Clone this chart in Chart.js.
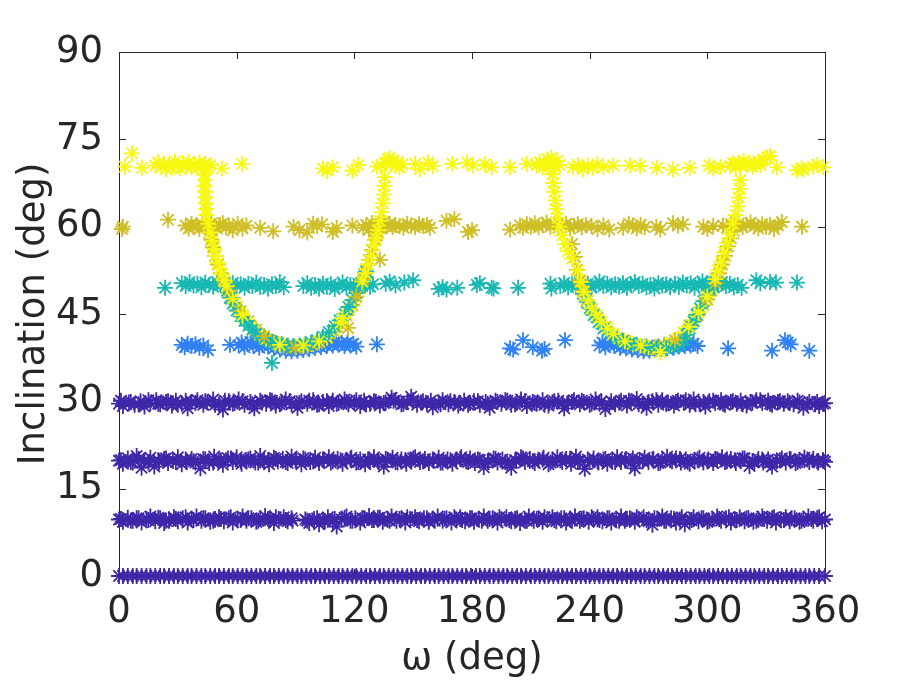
<!DOCTYPE html>
<html>
<head>
<meta charset="utf-8">
<script src="https://cdn.jsdelivr.net/npm/chart.js@4.4.1/dist/chart.umd.min.js"></script>
<style>
  html, body { margin: 0; padding: 0; background: #fff; }
  #wrap { width: 912px; height: 684px; }
</style>
</head>
<body>
<div id="wrap"><canvas id="c" width="912" height="684"></canvas></div>
<script>
// axis ticks
var xTicks = [0, 60, 120, 180, 240, 300, 360];
var yTicks = [0, 15, 30, 45, 60, 75, 90];

// [omega, inclination]
// yellow: ~70 deg band, the two T stems and the upper arms of the U's
var yellowPts = [
  [3,70.3],[6.6,72.6],[11.7,70.1],
  [18.5,70.5],[20,71],[21.5,70.2],[23,70.8],[24,69.9],[25.5,70.6],[27,70.1],[28.5,71.2],[30,70.4],[31,70],[32.5,70.9],[34,70.3],[35.5,71.1],[37,70.2],[38.5,70.7],[40,70.1],[41,71],[42.5,70.4],[44,70.8],[45.5,70.2],[46.5,70.6],
  [52.5,70],[62.7,70.8],
  [43.5,69],[43.8,68],[43.5,67],[44,66],[43.8,65],[44.2,64],[44.5,63],[44.5,62],
  [45.5,60.5],[46.5,59],[47.5,57.5],[48.5,56.2],[49.5,55],[50.5,53.8],[51.5,52.8],[52.5,51.8],[53.5,50.8],[55,49.8],
  [124,50.6],[125.5,52],[127,53.5],[128.5,55],[130,56.8],[131,58],[132,59.4],[133,61],[134,62.5],[134.5,64],[135,65.5],[135.3,67],[135.5,68.5],
  [104,70],[106,69.6],[109,70.2],[119,69.6],[122,70.6],[131.6,70.3],[134,70.5],[135.5,71],[137,71.5],[138,71.8],[139,70.8],[140,71.3],[141,70.5],[142,71],[143,70.2],[144.5,70.7],[151,70.8],[153.5,69.9],[157.6,71],[160,70.4],[170,70.8],[177.5,71],[180.5,70.5],
  [186.6,70.7],[190,70.2],[199.4,70.2],[208,70.8],[213,70.5],[214.5,71.1],[216,70.2],[217,70.9],[218.5,71.6],[219.5,70.4],[220.5,71.8],[221.5,71],[222.5,70.3],[223.5,71.3],[224.5,70.6],[231.5,70.2],[234,70.6],[236.5,69.9],[239,70.5],[241.5,70.1],[244,70.7],[247,70.2],[252,70.5],[260.6,70.5],[265.7,70.4],[274.4,70.1],[282.5,69.8],[291,70.1],
  [221,69],[221.5,67.5],[222,66],[222.5,64.5],[223,63],[223.8,61.5],[224.5,60],[226,58.5],[227.5,57],[229,55.8],[231,54.5],
  [234,52.5],[235.5,50.5],
  [304,51],[305.5,52.5],[307,54],[308.5,55.6],[310,57.2],[311.5,58.8],[313,60.5],[314.5,62],[315.5,63.5],[316,65],[316.5,66.5],[316.8,68],
  [301,70.5],[303,70],[306.6,70.2],[311.6,70.4],[313,70.9],[314.5,70.2],[316,71],[317,70.5],[318.5,71.3],[320,70.6],[321.5,71],[323,70.3],[324.5,70.8],[326,71.2],[327,70.6],[329,71.5],[330.5,71.9],[332,72.1],[335.5,70.2],[345.7,69.7],[348,70],[349,69.8],[354,70.3],[356,70.6],[359,70.2]
];
// yellow points on the lower U that show above the cyan
var yellowTop = [
  [58,47.6],[63,44.8],[82,39.7],[94,39.6],[102,40.3],[113,43.5],[114,44.3],
  [237,48.8],[239,47.3],[241,46],[243.5,44.8],[246,43.6],[249,42.5],[252,41.6],[258,40.3],[266,39.6],[276,38.4],[290.5,42.8],[295.5,45.3],[300,48]
];
// yellow points on the lower U that sit under the cyan
var yellowLow = [
  [56.5,48.6],[60,46.3],[62,45.2],[64,44.3],[66.5,43.2],[69,42.3],[72,41.4],[75,40.7],[78,40.2],[86,39.5],[90,39.4],[98,39.9],[106,41],[110,42.2],[116,45],[118.5,46.4],[120.5,47.8],[122.5,49.4],
  [255,40.8],[262,39.9],[270,39.3],[274,38.9],[279,39.4],[282,40],[285,40.8],[288,41.8],[293,44],[297.5,46.5],[302,49.4]
];

var olivePts = [
  [2,60],[1.5,59.6],[25,61.2],
  [34,60.2],[35.5,59.7],[37,60.5],[38,59.9],[39.5,60.3],[41,59.6],[42.5,60.4],[44,60.1],[45.5,59.8],[47,60.6],[48.5,60],[50,59.7],[51.5,60.3],[53,60.6],[54.5,59.9],[56,60.2],[58,59.4],
  [60.5,60.5],[63,59.7],[65,60.2],[72,59.8],[78.6,59.2],[89,60],[92,59.4],[96,59],[99,60.5],[101,60.1],[103.5,60.4],[109,59.1],[111,59.8],[119,60.2],
  [124.5,59.8],[126,60.3],[127.5,59.5],[129,60.6],[130.5,60],[132,60.4],[133.5,59.7],[135,60.8],[136.5,60.1],[138,60.5],[139.5,59.9],[141,60.3],[143,60.1],[145,59.8],[147,60.5],[149,60.2],[151,59.9],[153,60.4],[155,60.1],[157,60.3],[158.5,59.8],
  [167,61],[171,61.3],[178,59.1],[180,59.4],
  [199.4,59.5],[204.5,60.2],[206,59.8],[208,60.4],[210,60],[212,60.6],[214,59.9],[216,60.3],[218,60.7],[220,60],[222,60.4],[224,59.8],[226,60.2],[228,60.5],[230,59.7],[232,60.1],[234,60.4],[236,59.9],[238,60.3],[241,60.1],[244,59.6],[247,60.2],[250,59.5],[257,59.8],[260,60.5],[262,60.2],[264,59.7],[266,60.3],[268,59.9],[274,60],[276,59.5],[282.5,60.6],[285,60.2],[287.6,60.4],[298,60],[300,59.6],[303,60.1],
  [308,60.2],[310,59.8],[312,60.4],[314,60],[316,60.6],[318,59.9],[320,60.3],[322,60.7],[324,60.1],[326,59.7],[328,60.4],[330,60],[332,60.3],[334,59.6],[336,60.2],[338,60.8],[348.3,60],
  [46,59],[47,57.8],[48,56.5],[49,55],[50.5,53.5],[52,52],[54,50.4],
  [124.5,51],[126,52.7],[127.5,54.3],[129,56],[130.5,57.7],[132,59],[133,54.3],
  [231,57],[232.5,54.8],[233.5,52.6],[235,50.8],
  [304,50.3],[306,52],[307.5,53.5],[309,55],[310.5,56.6],[312,58],[313.5,59.3]
];
var oliveTop = [
  [56,49],[62,45.5],[74,41.2],[90,39.2],[116.8,42.6],[121,48],[236.5,49],[283.5,40.5],[300,47.5]
];
var oliveLow = [
  [59,47],[66,43.8],[70,42.3],[79,40.2],[84,39.6],[96,39.5],[101,40],[106,40.9],[110,42],[113,43.2],[116,44.8],[119,46.5],[123,49.5],
  [238.5,47.4],[241,45.8],[244,44.4],[248,42.8],[252,41.5],[257,40.5],[262,39.8],[268,39.4],[273,39.3],[278,39.7],[288,41.8],[291,43],[295,44.8],[298,46.5],[302,49]
];

var cyanPts = [
  [23.5,49.5],[32,50.3],[34,49.8],[36,50.5],[38,49.9],[40,50.2],[42,49.6],[44,50.4],[46,50],[48,49.7],[50,50.5],[52,49.9],[54,50.2],[56,49.6],[58,50.3],[60,49.8],[62,50.1],[64,49.5],[66,50.2],[68,49.8],[70,50.4],[72,49.7],[74,50],[76,49.4],[78,50.1],[80,49.8],[82,50.5],[84,49.6],
  [94,49.8],[96,50.3],[98,49.5],[100,50],[102,49.4],[104,50.2],[106,49.7],[108,50.1],[110,49.3],[112,49.9],[114,50.4],[116,49.6],[118,50],[120,49.5],[122,50.2],[124,49.8],[126,50.4],[128,49.7],[129.5,50.1],
  [136,50.2],[138,50.6],[141,49.9],[145.5,50.4],[150,50.8],
  [163,49.3],[165,49.6],[167,49.2],[172.5,49.5],[182.5,50],[184,50.3],[190,49.5],[191,49.4],[203.5,49.5],[220,50.2],[220.5,49.4],
  [225,49.8],[227,50.3],[229,49.6],[231,50.1],[233,49.7],[235,50.4],[237,49.9],[239,50.2],[241,49.5],[243,50],[245,50.6],[247,49.8],[249,50.2],[251,49.6],[253,50.1],[255,49.7],[257,50.3],[259,49.5],[261,50.1],[263,50.5],[265,49.8],[267,50.2],[269,49.6],[271,50],[273,49.4],[275,50.3],[277,49.9],[279,50.1],[281,49.6],
  [283.5,50.2],[285.5,49.7],[287.5,50.4],[289.5,49.9],[291.5,50.3],[293.5,49.5],[295.5,50.1],[297.5,50.6],[299.5,49.8],[301.5,50.2],[303.5,49.6],[305.5,50],[307.5,50.5],[309.5,49.8],[311.5,50.2],[313.5,49.6],[315.5,50],[317.5,49.5],
  [325,50.8],[327,50.3],[332,50.5],[335,50.4],[345.7,50.4],
  [78,36.6],
  [55,49],[56.5,47.8],[58,46.8],[60,45.6],[62,44.6],[64,43.8],[66,43],[68,42.3],[70,41.7],[72,41.2],[74,40.8],[76,40.5],[78,40.2],[80,40],[83,39.8],[86,39.6],[89,39.5],[92,39.6],[95,39.8],[98,40.1],[101,40.5],[104,41.1],[107,41.9],[110,42.9],[112.5,43.9],[115,45],[117,46.2],[119,47.4],[121,48.6],[123,50],[124.5,51.2],[126,52.3],
  [235,50],[236.5,48.5],[238.5,47.1],[240,46],[242,44.8],[244.5,43.6],[247,42.5],[250,41.6],[254,40.8],[257,40.3],[260.5,40],[264,39.7],[269,39.4],[274,39.2],[279,39.1],[283,39.3],[286,39.7],[288,40.5],[289.5,41.4],[291,42.5],[293,43.7],[294.5,44.9],[296.3,46],[298,47.2],[299.7,48.3],[301,49.4],[302.2,50.6]
];

var bluePts = [
  [32,39.7],[33.5,39.3],[35,39.9],[37,39.5],[39,39.8],[41,39.2],[43,39.6],[45.4,38.8],[56.6,39.7],
  [61,39.6],[62.5,40.1],[64,39.3],[65.5,39.8],[67,40.2],[68.5,39.5],[70,39.9],[71.5,39.2],[73,39.7],[74.5,40.1],[76,39.4],[77.5,39.8],[79,39.1],[80.5,39.6],[82,38.9],[83.5,39.4],[85,38.7],[86.5,39.2],[88,38.6],[89.5,39.1],[91,38.7],[92.5,39.3],[94,38.8],[95.5,39.5],[97,39],[98.5,39.6],[100,39.2],[101.5,39.8],[103,39.3],[104.5,39.9],[106,39.5],[107.5,40.1],[109,39.6],[110.5,40.2],[112,39.7],[113.5,40],[115,39.5],[116.5,40.1],[118,39.6],[119.5,39.9],[121,39.4],
  [131.5,39.8],
  [199.4,39.1],[201,38.9],[206,40.5],[211,39.3],[215.7,38.7],[217,39],[227.4,40.5],
  [245,39.6],[246.5,40.1],[248,39.3],[249.5,39.8],[251,40.2],[252.5,39.5],[254,39.9],[255.5,39.2],[257,39.7],[258.5,39.1],[260,39.6],[261.5,38.9],[263,39.4],[264.5,38.8],[266,39.3],[267.5,38.6],[269,39.1],[270.5,38.7],[272,39.2],[273.5,38.8],[275,39.4],[276.5,39],[278,39.5],[279.5,39.1],[281,39.6],[282.5,39.2],[284,39.8],[285.5,39.4],[287,39.9],[288.5,39.5],[290,40],[291.5,39.6],[293,39.9],[295,39.5],
  [310.6,39.1],[333,38.7],[339.6,40.5],[341,40.1],[342.5,39.8],[352,38.7]
];

var row30 = [[0,29.6],[2,29.2],[5,29.8],[8,29.4],[11,30.0],[13,29.1],[16,29.7],[19,30.2],[21,29.5],[24,29.9],[27,29.3],[29,30.1],[32,29.6],[35,28.8],[37,29.9],[40,30.2],[43,29.4],[45,29.8],[48,30.3],[51,29.5],[53,28.6],[56,30.0],[59,29.7],[61,30.3],[64,29.4],[67,29.9],[69,28.8],[72,30.1],[75,29.6],[77,30.2],[80,29.3],[83,29.8],[85,30.3],[88,29.5],[91,28.9],[93,30.0],[96,29.6],[99,30.2],[101,29.4],[104,29.9],[107,29.2],[109,30.1],[112,29.7],[115,30.3],[117,29.5],[120,29.8],[123,29.2],[125,30.1],[128,29.6],[131,29.9],[133,29.3],[136,29.8],[139,30.6],[141,30.2],[144,29.5],[147,29.9],[149,30.8],[152,29.4],[155,30.0],[157,29.6],[160,29.0],[163,29.8],[165,30.2],[168,29.5],[171,29.9],[173,29.3],[176,30.1],[179,29.7],[181,30.0],[184,29.4],[187,29.9],[189,28.9],[192,30.1],[195,29.6],[197,30.2],[200,29.4],[203,29.8],[205,30.3],[208,29.2],[211,29.9],[213,29.6],[216,30.2],[219,29.3],[221,29.8],[224,30.1],[227,28.8],[229,29.7],[232,30.2],[235,29.5],[237,29.9],[240,29.4],[243,30.3],[245,29.6],[248,28.7],[251,30.0],[253,29.5],[256,30.1],[259,29.3],[261,29.9],[264,30.4],[267,29.6],[269,28.9],[272,30.0],[275,29.4],[277,30.2],[280,29.7],[283,29.3],[285,30.1],[288,29.8],[291,29.4],[293,30.3],[296,29.6],[299,29.1],[301,30.0],[304,29.7],[307,30.2],[309,29.4],[312,29.9],[315,29.6],[317,30.1],[320,29.3],[323,29.8],[325,30.2],[328,29.7],[331,30.1],[333,29.4],[336,29.9],[339,29.6],[341,30.0],[344,29.5],[347,29.8],[349,28.9],[352,29.9],[355,29.5],[357,29.2],[360,29.7]];
var row30b = [[1,30.1],[6,29.9],[10,29.5],[15,30.2],[20,29.6],[25,30.0],[30,29.4],[34,30.1],[39,29.7],[44,30.0],[49,29.4],[54,30.1],[58,29.6],[63,30.0],[68,29.5],[73,29.8],[78,30.1],[82,29.5],[87,30.0],[92,29.7],[97,30.1],[102,29.5],[106,30.0],[111,29.6],[116,29.9],[121,30.2],[126,29.5],[130,30.0],[135,29.7],[140,30.1],[145,29.6],[150,30.2],[154,29.8],[159,30.1],[164,29.5],[169,30.0],[174,29.7],[178,29.4],[183,30.0],[188,29.6],[193,29.9],[198,30.1],[202,29.5],[207,30.0],[212,29.7],[217,29.4],[222,30.0],[226,29.6],[231,29.9],[236,30.1],[241,29.6],[246,30.0],[250,29.4],[255,29.8],[260,30.1],[265,29.5],[270,29.9],[274,30.2],[279,29.6],[284,29.9],[289,30.2],[294,29.5],[298,29.9],[303,30.1],[308,29.6],[313,30.0],[318,29.5],[322,29.9],[327,30.2],[332,29.6],[337,30.0],[342,29.7],[346,30.1],[351,29.5],[356,29.9],[359,29.6]];

var row20 = [[0,19.8],[2,19.3],[4.5,20.2],[7,19.5],[9,20.6],[11.5,18.6],[13,19.9],[16,20.3],[18,18.8],[20.5,19.6],[23,20.1],[25,19.4],[27.5,19.9],[30,20.4],[32,19.2],[34.5,19.7],[37,20.1],[39,19.5],[41.5,18.5],[44,20],[46,19.4],[48.5,20.5],[51,19.8],[53,19.1],[55.5,20.2],[58,19.6],[60,20.4],[62.5,19.3],[65,19.9],[67,20.2],[69.5,19.5],[72,20.6],[74,19.8],[76.5,19.2],[79,20.3],[81,19.7],[83.5,20.1],[86,19.4],[88,20.5],[90.5,19.8],[93,19.2],[95,20],[97.5,19.6],[100,20.3],[102,19.4],[104.5,19.9],[107,20.4],[109,19.7],[111.5,20.1],[114,19.3],[116,19.9],[118.5,20.3],[121,19.5],[123,20],[125.5,19.2],[128,19.8],[130,20.4],[132.5,19.6],[135,18.8],[137,19.9],[139.5,20.3],[142,19.5],[144,20],[146.5,19.3],[149,19.9],[151,20.4],[153.5,19.6],[156,20.1],[158,19.4],[160.5,19.9],[163,20.3],[165,19.5],[167.5,20],[170,19.3],[172,19.9],[174.5,20.4],[177,19.7],[179,20.2],[181.5,19.4],[184,19.9],[186,18.7],[188.5,19.6],[191,20.2],[193,19.5],[195.5,20],[198,19.3],[200,18.6],[202.5,19.8],[205,20.4],[207,19.6],[209.5,20.1],[212,19.4],[214,19.9],[216.5,20.3],[219,19.2],[221,19.8],[223.5,20.4],[226,19.6],[228,20.1],[230.5,19.3],[233,20.5],[235,19.8],[237.5,18.4],[240,19.6],[242,20.2],[244.5,19.5],[247,20],[249,19.3],[251.5,19.9],[254,20.4],[256,19.6],[258.5,20.1],[261,19.4],[263,18.5],[265.5,19.9],[268,20.3],[270,19.6],[272.5,20.1],[275,19.4],[277,19.9],[279.5,20.5],[282,19.7],[284,20.2],[286.5,19.5],[289,20],[291,19.3],[293.5,19.8],[296,20.3],[298,19.5],[300.5,20],[303,19.4],[305,19.9],[307.5,20.4],[310,19.7],[312,20.1],[314.5,19.4],[317,19.8],[319,20.2],[321.5,18.9],[324,19.6],[326,20.1],[328.5,19.5],[331,20],[333,18.8],[335.5,19.7],[338,20.2],[340,19.5],[342.5,20],[345,19.4],[347,19.9],[349.5,20.3],[352,19.6],[354,20.1],[356.5,19.5],[359,19.8],[360,19.6]];
var row20b = [[1,19.9],[6,19.6],[10,20.1],[15,19.5],[20,19.9],[24,20.2],[29,19.6],[34,20],[38,19.7],[43,20.1],[48,19.5],[52,19.9],[57,20.2],[62,19.7],[66,20],[71,19.5],[76,19.9],[80,20.1],[85,19.6],[90,19.9],[94,20.2],[99,19.7],[104,20],[108,19.5],[113,19.9],[118,20.1],[122,19.6],[127,20],[132,19.7],[136,20.1],[141,19.6],[146,19.9],[150,20.2],[155,19.7],[160,20],[164,19.5],[169,19.9],[174,20.1],[178,19.6],[183,20],[188,19.7],[192,20.1],[197,19.6],[202,19.9],[206,20.2],[211,19.7],[216,20],[220,19.5],[225,19.9],[230,20.1],[234,19.6],[239,20],[244,19.7],[248,20.1],[253,19.6],[258,19.9],[262,20.2],[267,19.7],[272,20],[276,19.5],[281,19.9],[286,20.1],[290,19.6],[295,20],[300,19.7],[304,20.1],[309,19.6],[314,19.9],[318,20.2],[323,19.7],[328,20],[332,19.5],[337,19.9],[342,20.1],[346,19.6],[351,20],[356,19.7],[359,19.9]];

var row10 = [[0,9.7],[2,9.3],[4.5,10],[7,9.5],[9,9.9],[11.5,9.2],[14,9.8],[16,10.2],[18.5,9.4],[21,9.9],[23,9.1],[25.5,9.7],[28,10.1],[30,9.4],[32.5,9.9],[35,9.2],[37,9.8],[39.5,10.2],[42,9.5],[44,9.9],[46.5,9.3],[49,9.8],[51,10.1],[53.5,9.4],[56,9.9],[58,9.2],[60.5,9.7],[63,10.2],[65,9.5],[67.5,9.9],[70,9.3],[72,9.8],[74.5,10.3],[77,9.6],[79,9.1],[81.5,9.8],[84,10.1],[86,9.4],[88,9.9],[88.5,9.5],[95,9.7],[97,9.1],[99.5,9.8],[102,8.9],[104,9.6],[106.5,10.1],[109,9.3],[111,8.5],[113.5,9.7],[116,10.2],[118,9.5],[120.5,9.9],[123,9.2],[125,9.8],[127.5,10.3],[130,9.6],[132,10],[134.5,9.3],[137,9.8],[139,10.2],[141.5,9.5],[144,9.9],[146,9.2],[148.5,9.8],[151,10.1],[153,9.4],[155.5,9.9],[158,9.3],[160,9.8],[162.5,10.2],[165,9.5],[167,9.9],[169.5,9.2],[172,9.7],[174,10.1],[176.5,9.4],[179,9.9],[181,9.3],[183.5,9.8],[186,10.2],[188,9.5],[190.5,9.9],[193,9.2],[195,9.7],[197.5,10.1],[200,9.4],[202,9.8],[204.5,9.1],[207,9.7],[209,10.2],[211.5,9.5],[214,9.9],[216,9.3],[218.5,9.8],[221,10.1],[223,9.4],[225.5,9.9],[228,9.2],[230,9.7],[232.5,10.2],[235,9.5],[237,9.9],[239.5,9.3],[242,9.8],[244,10.1],[246.5,9.4],[249,9.9],[251,9.2],[253.5,9.7],[256,10.2],[258,9.5],[260.5,9.9],[263,9.3],[265,9.8],[267.5,10.1],[270,9.4],[272,8.8],[274.5,9.8],[277,10.2],[279,9.5],[281.5,9.9],[284,9.2],[286,9.7],[288.5,8.9],[291,9.6],[293,10.1],[295.5,9.4],[298,9.9],[300,9.3],[302.5,9.8],[305,10.2],[307,9.5],[309.5,9.9],[312,9.2],[314,9.7],[316.5,10.1],[319,9.4],[321,9.9],[323.5,9.3],[326,9.8],[328,10.2],[330.5,9.5],[333,9.9],[335,9.2],[337.5,9.7],[340,10.1],[342,9.4],[344.5,9.9],[347,9.3],[349,9.8],[351.5,10.2],[354,9.5],[356,9.9],[358.5,9.4],[360,9.7]];
var row10b = [[1,9.8],[6,9.5],[10,9.9],[15,9.6],[20,10],[24,9.5],[29,9.8],[34,10.1],[38,9.6],[43,9.9],[48,9.5],[52,9.8],[57,10.1],[62,9.6],[66,9.9],[71,9.5],[76,9.8],[80,10.1],[85,9.6],[96,9.5],[101,9.9],[105,9.4],[110,9.8],[115,10],[119,9.5],[124,9.9],[129,9.6],[133,10],[138,9.5],[143,9.8],[147,10.1],[152,9.6],[157,9.9],[161,9.5],[166,9.8],[171,10.1],[175,9.6],[180,9.9],[185,9.5],[189,9.8],[194,10.1],[199,9.6],[203,9.9],[208,9.5],[213,9.8],[217,10.1],[222,9.6],[227,9.9],[231,9.5],[236,9.8],[241,10.1],[245,9.6],[250,9.9],[255,9.5],[259,9.8],[264,10.1],[269,9.6],[273,9.9],[278,9.5],[283,9.8],[287,10.1],[292,9.6],[297,9.9],[301,9.5],[306,9.8],[311,10.1],[315,9.6],[320,9.9],[325,9.5],[329,9.8],[334,10.1],[339,9.6],[343,9.9],[348,9.5],[353,9.8],[357,10.1]];

var row0 = [[0,0],[2,0],[4.5,0],[7,0],[9,0],[11.5,0],[14,0],[16,0],[18.5,0],[21,0],[23,0],[25.5,0],[28,0],[30,0],[32.5,0],[35,0],[37,0],[39.5,0],[42,0],[44,0],[46.5,0],[49,0],[51,0],[53.5,0],[56,0],[58,0],[60.5,0],[63,0],[65,0],[67.5,0],[70,0],[72,0],[74.5,0],[77,0],[79,0],[81.5,0],[84,0],[86,0],[88.5,0],[91,0],[93,0],[95.5,0],[98,0],[100,0],[102.5,0],[105,0],[107,0],[109.5,0],[112,0],[114,0],[116.5,0],[119,0],[121,0],[123.5,0],[126,0],[128,0],[130.5,0],[133,0],[135,0],[137.5,0],[140,0],[142,0],[144.5,0],[147,0],[149,0],[151.5,0],[154,0],[156,0],[158.5,0],[161,0],[163,0],[165.5,0],[168,0],[170,0],[172.5,0],[175,0],[177,0],[179.5,0],[182,0],[184,0],[186.5,0],[189,0],[191,0],[193.5,0],[196,0],[198,0],[200.5,0],[203,0],[205,0],[207.5,0],[210,0],[212,0],[214.5,0],[217,0],[219,0],[221.5,0],[224,0],[226,0],[228.5,0],[231,0],[233,0],[235.5,0],[238,0],[240,0],[242.5,0],[245,0],[247,0],[249.5,0],[252,0],[254,0],[256.5,0],[259,0],[261,0],[263.5,0],[266,0],[268,0],[270.5,0],[273,0],[275,0],[277.5,0],[280,0],[282,0],[284.5,0],[287,0],[289,0],[291.5,0],[294,0],[296,0],[298.5,0],[301,0],[303,0],[305.5,0],[308,0],[310,0],[312.5,0],[315,0],[317,0],[319.5,0],[322,0],[324,0],[326.5,0],[329,0],[331,0],[333.5,0],[336,0],[338,0],[340.5,0],[343,0],[345,0],[347.5,0],[350,0],[352,0],[354.5,0],[357,0],[360,0]];

function toXY(arr) {
  return arr.map(function (p) { return {x: p[0], y: p[1]}; });
}

function starSet(pts, color, order) {
  return {
    data: toXY(pts),
    pointStyle: 'star',
    pointRadius: 8,
    pointHoverRadius: 8,
    borderColor: color,
    backgroundColor: color,
    pointBorderWidth: 1.8,
    showLine: false,
    clip: false,
    order: order
  };
}

var ink = '#262626';
var yellow = '#f7f80f';
var olive = '#cfbf27';
var cyan = '#17b8b3';
var blue = '#3081f4';
var dark = '#3e26a8';
var font = {family: 'DejaVu Sans', size: 37};

// box with inward ticks, drawn under the markers like the original
var frame = {
  id: 'frame',
  beforeDatasetsDraw: function (chart) {
    var ctx = chart.ctx, a = chart.chartArea;
    var xs = chart.scales.x, ys = chart.scales.y;
    ctx.save();
    ctx.strokeStyle = ink;
    ctx.lineWidth = 1;
    ctx.strokeRect(Math.round(a.left) + 0.5, Math.round(a.top) + 0.5,
      Math.round(a.right - a.left), Math.round(a.bottom - a.top));
    ctx.beginPath();
    xTicks.forEach(function (v) {
      var px = Math.round(xs.getPixelForValue(v)) + 0.5;
      ctx.moveTo(px, a.bottom); ctx.lineTo(px, a.bottom - 7);
      ctx.moveTo(px, a.top); ctx.lineTo(px, a.top + 7);
    });
    yTicks.forEach(function (v) {
      var py = Math.round(ys.getPixelForValue(v)) + 0.5;
      ctx.moveTo(a.left, py); ctx.lineTo(a.left + 7, py);
      ctx.moveTo(a.right, py); ctx.lineTo(a.right - 7, py);
    });
    ctx.stroke();
    ctx.restore();
  }
};

new Chart(document.getElementById('c'), {
  type: 'scatter',
  data: {
    datasets: [
      starSet(yellowPts, yellow, 0),
      starSet(yellowTop, yellow, 0),
      starSet(oliveTop, olive, 0),
      starSet(olivePts, olive, 1),
      starSet(cyanPts, cyan, 2),
      starSet(yellowLow, yellow, 3),
      starSet(oliveLow, olive, 3),
      starSet(bluePts, blue, 4),
      starSet(row30, dark, 5),
      starSet(row30b, dark, 5),
      starSet(row20, dark, 5),
      starSet(row20b, dark, 5),
      starSet(row10, dark, 5),
      starSet(row10b, dark, 5),
      starSet(row0, dark, 5)
    ]
  },
  options: {
    responsive: false,
    animation: false,
    events: [],
    layout: {padding: {left: 0, top: 52, right: 87, bottom: 0}},
    plugins: {legend: {display: false}, tooltip: {enabled: false}},
    scales: {
      x: {
        type: 'linear', min: 0, max: 360,
        afterFit: function (s) { s.height = 108; },
        afterBuildTicks: function (s) { s.ticks = xTicks.map(function (v) { return {value: v}; }); },
        grid: {display: false, drawTicks: false},
        border: {display: false},
        ticks: {color: ink, font: font, padding: 14, maxRotation: 0, autoSkip: false},
        title: {display: true, text: 'ω (deg)', color: ink, font: font, padding: {top: 0, bottom: 2}}
      },
      y: {
        type: 'linear', min: 0, max: 90,
        afterFit: function (s) { s.width = 119; },
        afterBuildTicks: function (s) { s.ticks = yTicks.map(function (v) { return {value: v}; }); },
        grid: {display: false, drawTicks: false},
        border: {display: false},
        ticks: {color: ink, font: font, padding: 16, autoSkip: false},
        title: {display: true, text: 'Inclination (deg)', color: ink, font: font, padding: {top: 12, bottom: 0}}
      }
    }
  },
  plugins: [frame]
});
</script>
</body>
</html>
